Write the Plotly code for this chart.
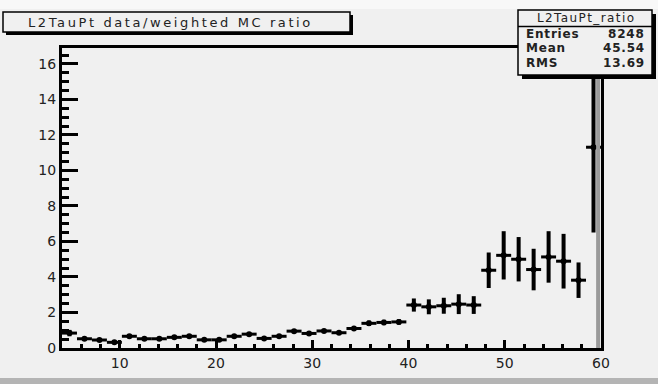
import numpy as np
import plotly.graph_objects as go

# Histogram binning: 36 equal bins between 4 and 60 GeV
x_lo, x_hi, n_bins = 4.0, 60.0, 36
edges = np.linspace(x_lo, x_hi, n_bins + 1)
centers = 0.5 * (edges[:-1] + edges[1:])

# data / weighted MC ratio per bin and its statistical error
ratio = [0.84, 0.52, 0.45, 0.32, 0.66, 0.52, 0.52, 0.60, 0.66, 0.46,
         0.46, 0.66, 0.78, 0.54, 0.66, 0.95, 0.82, 0.96, 0.86, 1.10,
         1.39, 1.44, 1.47, 2.42, 2.32, 2.38, 2.47, 2.42, 4.38, 5.22,
         5.00, 4.42, 5.13, 4.89, 3.82, 11.31]
ratio_err = [0.18, 0.06, 0.06, 0.06, 0.06, 0.06, 0.06, 0.06, 0.06, 0.06,
             0.06, 0.06, 0.06, 0.06, 0.06, 0.09, 0.09, 0.09, 0.09, 0.10,
             0.15, 0.15, 0.15, 0.37, 0.42, 0.45, 0.56, 0.50, 1.00, 1.36,
             1.25, 1.17, 1.45, 1.54, 1.00, 4.80]

y_ticks = [0, 2, 4, 6, 8, 10, 12, 14, 16]
x_ticks = [10, 20, 30, 40, 50, 60]

stats_title = "L2TauPt_ratio"
stats_rows = [("Entries", "8248"), ("Mean", "45.54"), ("RMS", "13.69")]
title = "L2TauPt data/weighted MC ratio"

W, H = 658, 384
ML, MR, MT, MB = 62, 57, 48, 36
pw, ph = W - ML - MR, H - MT - MB


def px(x):
    return (x - ML) / pw


def py(y):
    return (H - MB - y) / ph


BG = "#f0f0f0"
FONT = "DejaVu Sans"

# horizontal bin-width bars: one segment per bin, broken by None
bar_x, bar_y = [], []
for lo, hi, v in zip(edges[:-1], edges[1:], ratio):
    bar_x += [lo, hi, None]
    bar_y += [v, v, None]

fig = go.Figure()
fig.add_trace(go.Scatter(
    x=bar_x, y=bar_y, mode="lines",
    line=dict(color="black", width=3),
    showlegend=False, hoverinfo="skip",
))
fig.add_trace(go.Scatter(
    x=centers, y=ratio, mode="markers",
    marker=dict(size=0, color="black"),
    error_y=dict(type="data", array=ratio_err, width=0, thickness=4, color="black"),
    showlegend=False, hoverinfo="x+y",
))

shapes = []
# light strip along the top edge and darker band along the bottom of the canvas
shapes.append(dict(type="rect", xref="paper", yref="paper", layer="below",
                   x0=px(0), x1=px(W), y0=py(0), y1=py(9),
                   fillcolor="#f8f8f8", line=dict(width=0)))
shapes.append(dict(type="rect", xref="paper", yref="paper",
                   x0=px(0), x1=px(W), y0=py(378), y1=py(H),
                   fillcolor="#b4b4b4", line=dict(width=0)))
# grey edge line at the upper end of the axis
shapes.append(dict(type="line", xref="x", yref="paper",
                   x0=x_hi - 0.3, x1=x_hi - 0.3, y0=0, y1=py(78),
                   line=dict(color="#9a9a9a", width=4)))

# title box with its shadow
shapes.append(dict(type="rect", xref="paper", yref="paper",
                   x0=px(6), x1=px(353), y0=py(15), y1=py(35),
                   fillcolor="black", line=dict(width=0)))
shapes.append(dict(type="rect", xref="paper", yref="paper",
                   x0=px(3), x1=px(350), y0=py(12), y1=py(32),
                   fillcolor=BG, line=dict(color="black", width=1.5)))

# statistics box with its shadow
shapes.append(dict(type="rect", xref="paper", yref="paper",
                   x0=px(522), x1=px(656), y0=py(14), y1=py(79),
                   fillcolor="black", line=dict(width=0)))
shapes.append(dict(type="rect", xref="paper", yref="paper",
                   x0=px(518), x1=px(652), y0=py(10), y1=py(75),
                   fillcolor=BG, line=dict(color="black", width=1.5)))
shapes.append(dict(type="line", xref="paper", yref="paper",
                   x0=px(518), x1=px(652), y0=py(26.5), y1=py(26.5),
                   line=dict(color="black", width=1.5)))

annotations = [
    dict(xref="paper", yref="paper", x=px(170), y=py(22.5),
         text=f'<span style="letter-spacing:2.6px">{title}</span>',
         showarrow=False, xanchor="center", yanchor="middle",
         font=dict(family=FONT, size=13, color="#222")),
    dict(xref="paper", yref="paper", x=px(586), y=py(18.5),
         text=f'<span style="letter-spacing:1.4px">{stats_title}</span>',
         showarrow=False, xanchor="center", yanchor="middle",
         font=dict(family=FONT, size=12, color="#222")),
]
for i, (label, value) in enumerate(stats_rows):
    yy = py(33.5 + 14.5 * i)
    annotations.append(dict(xref="paper", yref="paper", x=px(524), y=yy,
                            text=f'<span style="letter-spacing:0.8px"><b>{label}</b></span>',
                            showarrow=False, xanchor="left", yanchor="middle",
                            font=dict(family=FONT, size=12, color="#222")))
    annotations.append(dict(xref="paper", yref="paper", x=px(647), y=yy,
                            text=f'<span style="letter-spacing:0.8px"><b>{value}</b></span>',
                            showarrow=False, xanchor="right", yanchor="middle",
                            font=dict(family=FONT, size=12, color="#222")))

fig.update_layout(
    width=W, height=H,
    margin=dict(l=ML, r=MR, t=MT, b=MB, pad=0),
    paper_bgcolor=BG, plot_bgcolor=BG,
    shapes=shapes, annotations=annotations,
    xaxis=dict(range=[x_lo, x_hi], tickvals=x_ticks, ticktext=[str(v) for v in x_ticks],
               ticks="inside", ticklen=8, tickwidth=3, tickcolor="black",
               minor=dict(ticks="inside", dtick=2, ticklen=4, tickwidth=3, tickcolor="black"),
               showgrid=False, zeroline=False,
               showline=True, linecolor="black", linewidth=3, mirror=True,
               tickfont=dict(family=FONT, size=14, color="#222")),
    yaxis=dict(range=[0, 16.9], tickvals=y_ticks, ticktext=[str(v) for v in y_ticks],
               ticks="inside", ticklen=16, tickwidth=3, tickcolor="black",
               minor=dict(ticks="inside", dtick=0.5, ticklen=7, tickwidth=3, tickcolor="black"),
               showgrid=False, zeroline=False,
               showline=True, linecolor="black", linewidth=3, mirror=True,
               tickfont=dict(family=FONT, size=14, color="#222")),
)

fig.write_html("out.html")
